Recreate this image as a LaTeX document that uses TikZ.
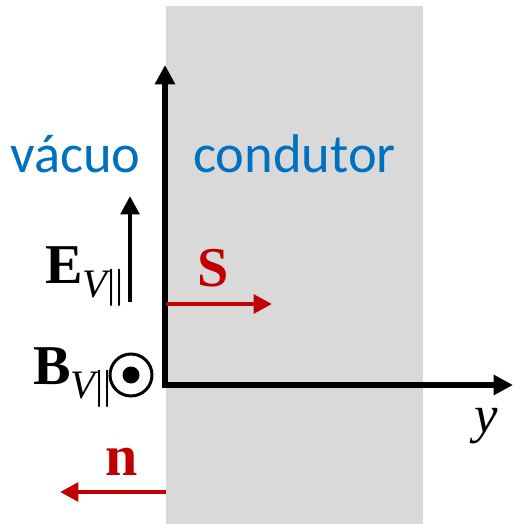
\documentclass[tikz,border=0pt]{standalone}
\usepackage{fontspec}
\setmainfont{Liberation Serif}
\newfontfamily\regionfont{Carlito}
\usetikzlibrary{positioning, arrows.meta}
\definecolor{condgray}{HTML}{D9D9D9}
\definecolor{regionblue}{HTML}{0070C0}
\definecolor{vecred}{HTML}{C00000}
\tikzset{
    axis/.style={
        line width=2.9pt, line join=miter,
        {Triangle[length=11pt, width=11pt]}-{Triangle[length=11pt, width=11pt]}
    },
    vec/.style={
        line width=2.6pt, -{Triangle[length=10.5pt, width=10.5pt]}
    },
    region/.style={
        font=\regionfont\fontsize{31}{37}\selectfont,
        text=regionblue, inner sep=0pt, anchor=base west
    },
    vlabel/.style={
        font=\fontsize{32}{38}\selectfont\bfseries,
        inner sep=0pt, anchor=base west
    }
}
\newcommand{\subVpar}{\raisebox{-0.28cm}{\fontsize{23}{28}\selectfont\mdseries\itshape V\upshape||}}

\begin{document}
\begin{tikzpicture}[x=0.02cm, y=-0.02cm]
\useasboundingbox (0,0) rectangle (514,524);

% conductor region
\fill[condgray] (166,6) rectangle (423,524);

% axes
\coordinate (origin) at (165,385);
\coordinate (ytip) at (513,385);
\coordinate (ztip) at (165,65);
\draw[axis] (ztip) -- (origin) -- (ytip);
\node[font=\fontsize{30}{36}\selectfont\itshape, inner sep=0pt, anchor=base west] (ylabel) at (474,432) {y};

% region labels
\node[region] (vacuo) at (10,172) {vácuo};
\node[region] (condutor) at (193,172) {condutor};

% fields
\coordinate (Ebot) at (130,302);
\coordinate (Etop) at (130,196);
\draw[vec] (Ebot) -- (Etop);
\node[vlabel] (Elabel) at (45,283) {E\subVpar};

\node[vlabel] (Blabel) at (33,384) {B\subVpar};
\node[circle, draw, line width=1.7pt, minimum size=0.84cm, inner sep=0pt] (Bdot) at (131,375) {};
\fill (Bdot.center) circle (8.5);

% Poynting vector
\coordinate (Sstart) at (166,304);
\coordinate (Send) at (272,304);
\draw[vec, vecred] (Sstart) -- (Send);
\node[vlabel, text=vecred] (Slabel) at (197,286) {S};

% normal
\coordinate (nstart) at (166,492);
\coordinate (nend) at (60,492);
\draw[vec, vecred] (nstart) -- (nend);
\node[vlabel, text=vecred, font=\fontsize{33}{38}\selectfont\bfseries] (nlabel) at (105,475) {n};

\end{tikzpicture}
\end{document}
